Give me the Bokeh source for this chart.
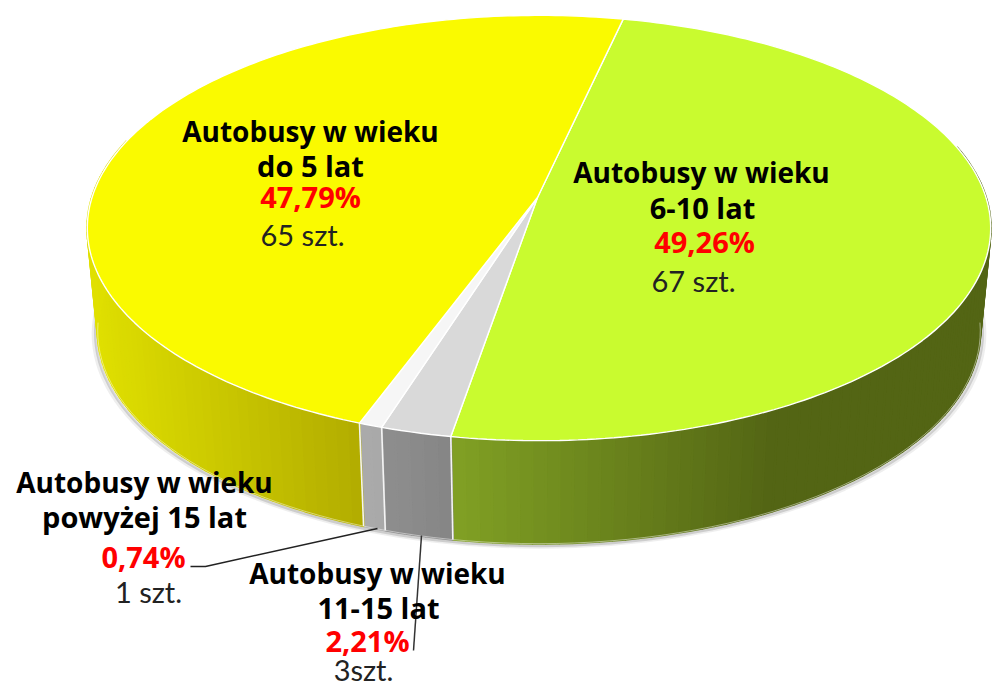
import math
from bokeh.core.properties import value
from bokeh.embed import file_html
from bokeh.models import Range1d
from bokeh.plotting import figure
from bokeh.resources import INLINE

# data (clockwise from the back of the pie)
categories = ["6-10 lat", "11-15 lat", "powyżej 15 lat", "do 5 lat"]
counts = [67, 3, 1, 65]
percents = ["49,26%", "2,21%", "0,74%", "47,79%"]
count_labels = ["67 szt.", "3szt.", "1 szt.", "65 szt."]
top_colors = ["#C9FB2F", "#D9D9D9", "#F6F6F6", "#FAFA00"]
side_left = ["#80A024", "#8E8E8E", "#ABABAB", "#E0E000"]
side_right = ["#536514", "#858585", "#A8A8A8", "#B2AC00"]
label_title = "Autobusy w wieku"

# projection of the pie disc
CX, CY, A, B, C = 538.5, 197.0, 447.0, 180.0, -0.1435
DEPTH, START, SHRINK = 103.0, 12.4, 0.977


def top(theta):
    t = math.radians(theta)
    u, v = math.sin(t), -math.cos(t)
    w = 1 + C * v
    return CX + A * u / w, (B * v + CY) / w


def bottom(theta, k=SHRINK):
    x, y = top(theta)
    return CX + (x - CX) * k, y + DEPTH


def lerp(c1, c2, f):
    f = min(max(f, 0), 1)
    a = [int(c1[i:i + 2], 16) for i in (1, 3, 5)]
    b = [int(c2[i:i + 2], 16) for i in (1, 3, 5)]
    return "#%02x%02x%02x" % tuple(round(p + (q - p) * f) for p, q in zip(a, b))


total = sum(counts)
bounds = [START]
for c in counts:
    bounds.append(bounds[-1] + c / total * 360)

p = figure(width=992, height=691, output_backend="svg", toolbar_location=None,
           x_range=Range1d(0, 992), y_range=Range1d(691, 0), min_border=0)
p.axis.visible = False
p.grid.visible = False
p.outline_line_color = None
p.background_fill_color = "white"
p.border_fill_color = "white"

# soft shadow around the bottom rim and up the silhouette
angles = [96 + i * 2 for i in range(85)]
for k, off, alpha, lw in ((0.986, 3, 0.12, 4), (0.982, 2, 0.26, 3)):
    sx = [top(82)[0] - 2] + [bottom(a, k)[0] for a in angles] + [top(278)[0] + 2]
    sy = [top(82)[1] + 40] + [bottom(a, k)[1] + off for a in angles] + [top(278)[1] + 40]
    p.line(sx, sy, line_color="#707070", line_alpha=alpha, line_width=lw)

# side wall strips
xs_all, ys_all, cols = [], [], []
xr = [(455, 770), (385, 455), (360, 385), (92, 362)]
for i in range(len(counts)):
    a0, a1 = bounds[i], bounds[i + 1]
    n = max(2, int((a1 - a0) / 1.5))
    for k in range(n):
        s0 = a0 + (a1 - a0) * k / n
        s1 = a0 + (a1 - a0) * (k + 1) / n
        if not (75 < s0 < 285):
            continue
        pts = [top(s0), top(s1), bottom(s1), bottom(s0)]
        xm = sum(q[0] for q in pts) / 4
        f = (xm - xr[i][0]) / (xr[i][1] - xr[i][0])
        xs_all.append([q[0] for q in pts])
        ys_all.append([q[1] for q in pts])
        cols.append(lerp(side_left[i], side_right[i], f))
p.patches(xs_all, ys_all, fill_color=cols, line_color=cols, line_width=2.2)

# pale edge along the bottom rim
p.line([bottom(a)[0] for a in angles], [bottom(a)[1] for a in angles],
       line_color="white", line_alpha=0.45, line_width=1)

# white separators on the wall
sep = [b for b in bounds[1:4]]
p.multi_line([[top(b)[0], bottom(b)[0]] for b in sep],
             [[top(b)[1], bottom(b)[1]] for b in sep],
             line_color="#F4F4F4", line_width=1.6)

# top face wedges
txs, tys = [], []
for i in range(len(counts)):
    a0, a1 = bounds[i], bounds[i + 1]
    n = max(4, int((a1 - a0) / 1.0))
    pts = [top(a0 + (a1 - a0) * k / n) for k in range(n + 1)]
    txs.append([CX - 1.5] + [q[0] for q in pts])
    tys.append([CY] + [q[1] for q in pts])
p.patches(txs, tys, fill_color=top_colors, line_color="white", line_width=1.4)

# leader lines
p.line([190, 205, 377], [566, 566, 528], line_color="#222222", line_width=1.5)
p.line([421, 413], [535, 650], line_color="#333333", line_width=1.5)


def txt(x, y, s, color="black", style="bold", size="28px", font="Open Sans"):
    p.text([x], [y], text=[s], text_font=value(font), text_font_size=size, text_font_style=style,
           text_color=color, text_align="center", text_baseline="middle")


# labels
places = [
    ((701, 171), (702, 207), (704, 241), (693, 280)),
    ((377, 572), (378, 607), (367, 640), (363, 669)),
    ((144, 481), (144, 516), (143, 556), (148, 591)),
    ((310, 130), (310, 165), (310, 196), (302, 234)),
]
for i, pl in enumerate(places):
    txt(*pl[0], label_title)
    txt(*pl[1], categories[i], size="29px")
    txt(*pl[2], percents[i], color="#FF0000", size="29px")
    txt(*pl[3], count_labels[i], color="#222222", style="normal", size="29px", font="Lato")

open("out.html", "w").write(file_html(p, INLINE))
